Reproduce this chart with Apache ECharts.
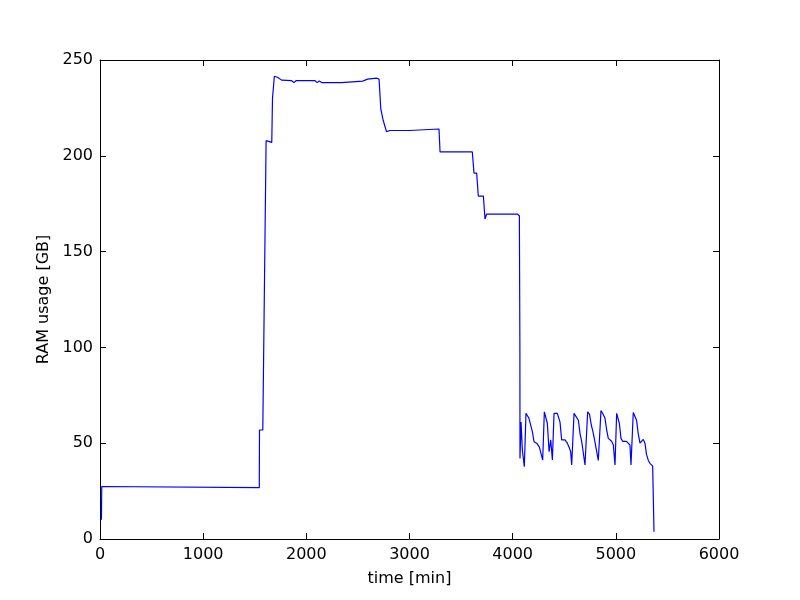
<!DOCTYPE html>
<html>
<head>
<meta charset="utf-8">
<script src="https://cdn.jsdelivr.net/npm/echarts@6/dist/echarts.min.js"></script>
<style>html,body{margin:0;padding:0;background:#fff}#c{width:800px;height:600px}</style>
</head>
<body>
<div id="c"></div>
<script>
var timeMin = [14,17,25,1544,1546,1578,1610,1665,1672,1690,1720,1760,1858,1880,1900,2084,2106,2126,2149,2230,2239,2255,2342,2359,2546,2559,2594,2682,2698,2705,2722,2737,2744,2760,2777,2795,2811,2998,3005,3286,3296,3609,3625,3651,3667,3716,3732,3748,4045,4065,4070,4071,4081,4094,4103,4113,4129,4139,4158,4174,4191,4207,4233,4259,4275,4291,4307,4320,4336,4353,4369,4385,4401,4417,4433,4459,4475,4491,4507,4530,4546,4562,4572,4595,4611,4637,4653,4669,4685,4701,4727,4745,4762,4778,4794,4808,4830,4856,4878,4895,4911,4927,4943,4959,4976,4992,5008,5024,5034,5050,5066,5082,5104,5121,5137,5147,5169,5185,5201,5217,5234,5250,5266,5282,5298,5315,5331,5347,5357,5370];
var ramGB = [10,27.4,26.8,26.8,56.9,56.9,207.9,207,230,241.5,241,239.5,239.2,238.2,239.2,239.2,238.2,239,238.2,238.2,239,238.2,238.2,239,239,238.3,240,240.5,241,240,224.3,224,218.7,218.7,212.6,212.6,213.2,213.2,214,214,202,202,191,191,179,179,167,169.6,169.6,168.7,100,42,61,46.4,47,37.7,65.6,66.4,63,62,56,50.8,50,48,47,41.2,66.4,66,60.4,45.6,51.7,41.2,65.6,66.4,65.6,61,51.7,51,51.7,50,48,45.6,38.6,65.6,66.4,62,55,51,51.7,38.6,66.4,65,59.5,56,51.7,51,41,67,65,63,57,52.5,51.7,51,49,38.6,65.6,65,60.4,52.5,51,52,51,50,49,38.6,66,65,62,55,50,51,52,50,44,41,39.5,40.3,38,3.8];
var xTicks = [0,1000,2000,3000,4000,5000,6000];
var yTicks = [0,50,100,150,200,250];

var pts = timeMin.map(function(t,i){return [t, ramGB[i]];});
var font = 'DejaVu Sans';
var chart = echarts.init(document.getElementById('c'));
var lineStyle = {color:'#000', width:1};
function plain(v){return String(v);}
chart.setOption({
  animation:false,
  backgroundColor:'#fff',
  grid:{left:100, right:81, top:60, bottom:61, show:false},
  xAxis:[{
    type:'value', min:xTicks[0], max:xTicks[xTicks.length-1], interval:1000,
    position:'bottom',
    name:'time [min]', nameLocation:'middle', nameGap:32,
    nameTextStyle:{fontFamily:font, fontSize:16, color:'#000'},
    axisLine:{show:true, onZero:false, lineStyle:lineStyle},
    axisTick:{show:true, inside:true, length:6, lineStyle:lineStyle},
    axisLabel:{fontFamily:font, fontSize:16, color:'#000', margin:8, formatter:plain},
    splitLine:{show:false}
  },{
    type:'value', min:xTicks[0], max:xTicks[xTicks.length-1], interval:1000,
    position:'top',
    axisLine:{show:true, onZero:false, lineStyle:lineStyle},
    axisTick:{show:true, inside:true, length:6, lineStyle:lineStyle},
    axisLabel:{show:false}, splitLine:{show:false}
  }],
  yAxis:[{
    type:'value', min:yTicks[0], max:yTicks[yTicks.length-1], interval:50,
    position:'left',
    name:'RAM usage [GB]', nameLocation:'middle', nameGap:46, nameRotate:90,
    nameTextStyle:{fontFamily:font, fontSize:16, color:'#000'},
    axisLine:{show:true, onZero:false, lineStyle:lineStyle},
    axisTick:{show:true, inside:true, length:6, lineStyle:lineStyle},
    axisLabel:{fontFamily:font, fontSize:16, color:'#000', margin:7, formatter:plain},
    splitLine:{show:false}
  },{
    type:'value', min:yTicks[0], max:yTicks[yTicks.length-1], interval:50,
    position:'right',
    axisLine:{show:true, onZero:false, lineStyle:lineStyle},
    axisTick:{show:true, inside:true, length:6, lineStyle:lineStyle},
    axisLabel:{show:false}, splitLine:{show:false}
  }],
  series:[{
    type:'line', data:pts, xAxisIndex:0, yAxisIndex:0,
    showSymbol:false, symbol:'none',
    lineStyle:{color:'#0000ff', width:1.2},
    z:1
  }]
});
</script>
</body>
</html>
